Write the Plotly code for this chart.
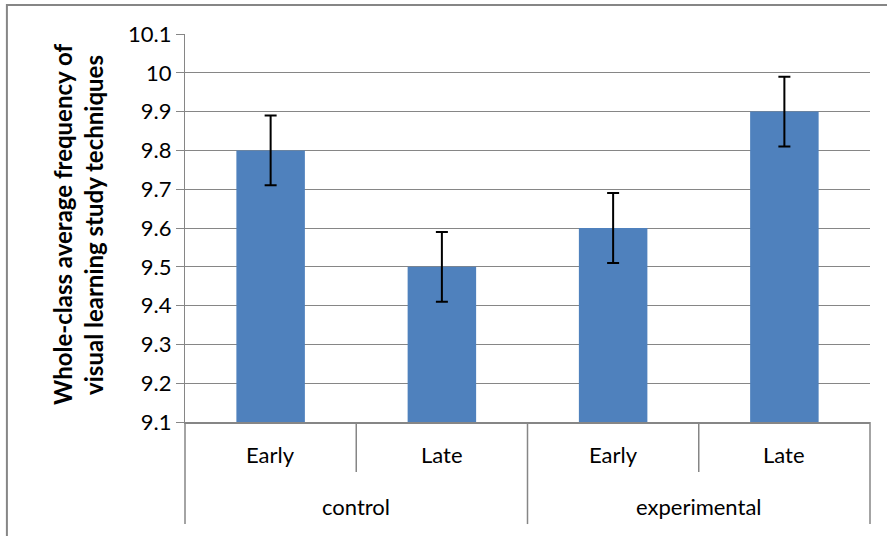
import plotly.graph_objects as go

groups = ["control", "control", "experimental", "experimental"]
phases = ["Early", "Late", "Early", "Late"]
values = [9.8, 9.5, 9.6, 9.9]
errors = [0.09, 0.09, 0.09, 0.09]
group_names = ["control", "experimental"]
y_ticks = [9.1, 9.2, 9.3, 9.4, 9.5, 9.6, 9.7, 9.8, 9.9, 10.0, 10.1]
y_tick_text = ["9.1", "9.2", "9.3", "9.4", "9.5", "9.6", "9.7", "9.8", "9.9", "10", "10.1"]
y_title_lines = ["Whole-class average frequency of", "visual learning study techniques"]

FONT = "Lato"
GRID = "#868686"

fig = go.Figure()
fig.add_trace(go.Bar(
    x=[groups, phases],
    y=values,
    marker=dict(color="#4f81bd", line=dict(width=0)),
    width=0.4,
    error_y=dict(type="data", array=errors, visible=True, color="black",
                 thickness=2, width=6),
))

fig.update_layout(
    width=887, height=536,
    margin=dict(l=185, r=17, t=34, b=114),
    paper_bgcolor="white", plot_bgcolor="white",
    showlegend=False,
    font=dict(family=FONT, size=22, color="black"),
)
fig.update_yaxes(
    range=[9.1, 10.1], tickvals=y_ticks, ticktext=y_tick_text,
    showgrid=True, gridcolor=GRID, gridwidth=1.3,
    showline=True, linecolor=GRID, linewidth=1.3,
    ticks="outside", ticklen=8, tickcolor=GRID,
    tickfont=dict(family=FONT, size=22), zeroline=False,
)
fig.update_xaxes(
    type="multicategory",
    showline=True, linecolor=GRID, linewidth=2,
    showticklabels=False, showdividers=False, ticks="",
)

n = len(phases)
# inner level labels
for i, p in enumerate(phases):
    fig.add_annotation(text=p, xref="paper", yref="paper",
                       x=(i + 0.5) / n, y=-0.085, showarrow=False,
                       xanchor="center", yanchor="middle",
                       font=dict(family=FONT, size=22, color="black"))
# outer level labels
ng = len(group_names)
for j, g in enumerate(group_names):
    fig.add_annotation(text=g, xref="paper", yref="paper",
                       x=(j + 0.5) / ng, y=-0.219, showarrow=False,
                       xanchor="center", yanchor="middle",
                       font=dict(family=FONT, size=22, color="black"))
# inner dividers
for i in range(1, n):
    if i % (n // ng) == 0:
        continue
    fig.add_shape(type="line", xref="paper", yref="paper",
                  x0=i / n, x1=i / n, y0=0, y1=-0.129,
                  line=dict(color=GRID, width=1.5))
# outer dividers
for j in range(ng + 1):
    fig.add_shape(type="line", xref="paper", yref="paper",
                  x0=j / ng, x1=j / ng, y0=0, y1=-0.263,
                  line=dict(color=GRID, width=1.5))

# y-axis title, one annotation per line
for k, line in enumerate(y_title_lines):
    fig.add_annotation(
        text="<b>" + line + "</b>", xref="paper", yref="paper",
        x=0, y=0.508, xshift=-122 + 31 * k, xanchor="center", yanchor="middle",
        textangle=-90, showarrow=False,
        font=dict(family=FONT, size=24, color="black"),
    )
# chart frame
fig.add_shape(type="rect", xref="paper", yref="paper",
              x0=-0.26, x1=1.1, y0=-0.3, y1=1.0747,
              line=dict(color=GRID, width=2), layer="below")

fig.write_html("out.html", config={"displayModeBar": False},
               post_script="document.body.style.margin='0';")
